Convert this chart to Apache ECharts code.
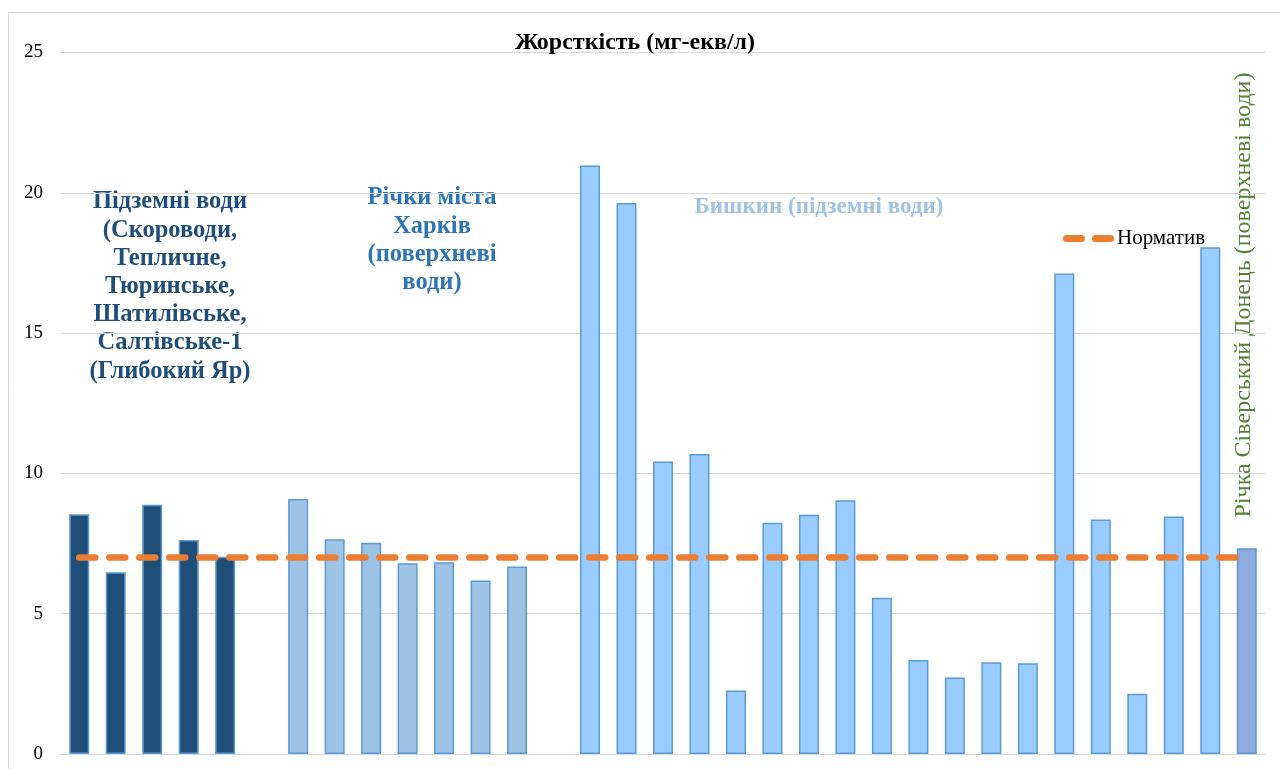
<!DOCTYPE html>
<html>
<head>
<meta charset="utf-8">
<script src="https://cdn.jsdelivr.net/npm/echarts@6/dist/echarts.min.js"></script>
<style>
  html, body { margin: 0; padding: 0; background: #fff; }
  #chart { width: 1280px; height: 769px; }
</style>
</head>
<body>
<div id="chart"></div>
<script>
// values (mg-eq/l)
const groundValues = [8.54, 6.48, 8.88, 7.63, 7.03];
const riverValues = [9.09, 7.65, 7.53, 6.8, 6.83, 6.18, 6.68];
const bishkinValues = [20.97, 19.64, 10.42, 10.69, 2.26, 8.24, 8.53, 9.04, 5.57, 3.35,
  2.73, 3.27, 3.23, 17.12, 8.36, 2.15, 8.46, 18.06];
const donetsValues = [7.33];
const normValue = 7;
const yTicks = { min: 0, max: 25, step: 5 };

const groupColors = ["#1F4E79", "#9DC3E6", "#99CCFF", "#8FAADC"];
const serif = '"Liberation Serif", "Times New Roman", serif';

// one empty slot between groups, as in the original sheet
const groups = [groundValues, riverValues, bishkinValues, donetsValues];
let categories = [];
let barData = [];
groups.forEach((vals, gi) => {
  vals.forEach((v, i) => {
    categories.push("g" + gi + "_" + i);
    barData.push({ value: v, itemStyle: { color: groupColors[gi] } });
  });
  if (gi < 2) {
    categories.push("gap" + gi);
    barData.push("-");
  }
});
const normData = categories.map(() => normValue);

// two rounded dashes for the legend, like the Excel one
const dashIcon = "path://M3.5,0 L18.5,0 A3.5,3.5 0 0 1 18.5,7 L3.5,7 A3.5,3.5 0 0 1 3.5,0 Z " +
  "M32.5,0 L47.5,0 A3.5,3.5 0 0 1 47.5,7 L32.5,7 A3.5,3.5 0 0 1 32.5,0 Z";

const chart = echarts.init(document.getElementById("chart"));
chart.setOption({
  animation: false,
  title: {
    text: "Жорсткість (мг-екв/л)",
    left: 630,
    top: 26,
    textAlign: "center",
    textStyle: { fontFamily: serif, fontSize: 24, fontWeight: "bold", color: "#000" },
  },
  legend: {
    data: [{ name: "Норматив", icon: dashIcon }],
    left: 1058,
    top: 223,
    itemWidth: 51,
    itemHeight: 7,
    itemGap: 5,
    textStyle: { fontFamily: serif, fontSize: 21, color: "#000", padding: [0, 0, 0, -2] },
  },
  grid: { left: 61, right: 15, top: 52.5, bottom: 15, containLabel: false },
  xAxis: {
    type: "category",
    data: categories,
    axisLine: { lineStyle: { color: "#d9d9d9" } },
    axisTick: { show: false },
    axisLabel: { show: false },
  },
  yAxis: {
    type: "value",
    min: yTicks.min,
    max: yTicks.max,
    interval: yTicks.step,
    axisLine: { show: false },
    axisTick: { show: false },
    axisLabel: { fontFamily: serif, fontSize: 19, color: "#000", margin: 18 },
    splitLine: { lineStyle: { color: "#d9d9d9", width: 1 } },
  },
  series: [
    {
      name: "Жорсткість",
      type: "bar",
      data: barData,
      barWidth: 20,
      itemStyle: { borderColor: "#5B9BD5", borderWidth: 1.5 },
    },
    {
      name: "Норматив",
      type: "line",
      data: normData,
      symbol: "none",
      z: 3,
      lineStyle: { color: "#ED7D31", width: 6.5, type: [16, 14], cap: "round" },
      itemStyle: { color: "#ED7D31" },
    },
  ],
  graphic: [
    {
      type: "rect",
      z: -10,
      shape: { x: 8.5, y: 12.5, width: 1300, height: 800 },
      style: { fill: "none", stroke: "#d9d9d9", lineWidth: 1 },
    },
    {
      type: "text",
      x: 170,
      y: 188,
      style: {
        text: "Підземні води\n(Скороводи,\nТепличне,\nТюринське,\nШатилівське,\nСалтівське-1\n(Глибокий Яр)",
        font: "bold 24.5px " + serif,
        fill: "#1F4E79",
        textAlign: "center",
        lineHeight: 28.2,
      },
    },
    {
      type: "text",
      x: 432,
      y: 184,
      style: {
        text: "Річки міста\nХарків\n(поверхневі\nводи)",
        font: "bold 24.5px " + serif,
        fill: "#2E75B6",
        textAlign: "center",
        lineHeight: 28.3,
      },
    },
    {
      type: "text",
      x: 819,
      y: 207,
      style: {
        text: "Бишкин (підземні води)",
        font: "bold 23px " + serif,
        fill: "#9DC3E6",
        textAlign: "center",
        textVerticalAlign: "middle",
      },
    },
    {
      type: "text",
      x: 1244,
      y: 295,
      rotation: Math.PI / 2,
      style: {
        text: "Річка Сіверський Донець (поверхневі води)",
        font: "24px " + serif,
        fill: "#548235",
        textAlign: "center",
        textVerticalAlign: "middle",
      },
    },
  ],
});
</script>
</body>
</html>
